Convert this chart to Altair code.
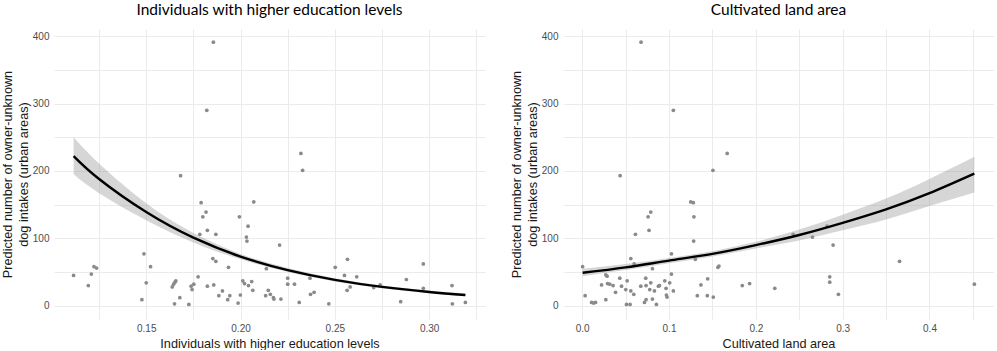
import altair as alt
import pandas as pd

# ---- Left panel: Individuals with higher education levels ----
edu_x = [0.1115, 0.1193, 0.1209, 0.1223, 0.1237, 0.1477, 0.1488, 0.1500, 0.1523, 0.1682,
         0.1638, 0.1645, 0.1652, 0.1657, 0.1650, 0.1678, 0.1726, 0.1738, 0.1743, 0.1752,
         0.1775, 0.1784, 0.1791, 0.1817, 0.1800, 0.1824, 0.1869, 0.1824, 0.1858, 0.1853,
         0.1869, 0.1885, 0.1904, 0.1936, 0.1932, 0.1943, 0.1987, 0.1999, 0.1994, 0.2012,
         0.2021, 0.2042, 0.2059, 0.2065, 0.2031, 0.2034, 0.2040, 0.2070, 0.1856, 0.1821,
         0.2137, 0.2207, 0.2147, 0.2158, 0.2174, 0.2177, 0.2133, 0.2214, 0.2250, 0.2250,
         0.2286, 0.2311, 0.2368, 0.2371, 0.2390, 0.2468, 0.2502, 0.2551, 0.2567, 0.2565,
         0.2581, 0.2616, 0.2706, 0.2740, 0.2849, 0.2879, 0.2969, 0.2969, 0.3121, 0.3123,
         0.3192, 0.2329, 0.2320]
edu_y = [45, 30, 47, 58, 56, 9, 77, 34, 58, 193,
         28, 32, 35, 37, 3, 12, 2, 29, 24, 32,
         43, 106, 153, 139, 132, 112, 106, 29, 31, 70,
         66, 15, 22, 57, 9, 15, 4, 16, 132, 37,
         33, 30, 36, 23, 102, 96, 118, 154, 391, 290,
         55, 90, 23, 17, 12, 10, 15, 10, 41, 32,
         32, 5, 41, 17, 20, 3, 57, 45, 69, 23,
         28, 43, 27, 31, 6, 39, 62, 26, 30, 3,
         5, 201, 226]

edu_fit_x = [0.1115, 0.125, 0.15, 0.175, 0.20, 0.225, 0.25, 0.275, 0.30, 0.3192]
edu_fit = [222, 188, 139, 101, 73, 53, 38.5, 28, 20.5, 16]
edu_lo = [195, 167, 127, 94, 69, 50, 36, 26, 18.5, 14]
edu_hi = [250, 211, 152, 108, 77, 56, 41, 30, 22.5, 18]

# ---- Right panel: Cultivated land area ----
land_x = [0.0678, 0.1050, 0.1670, 0.1506, 0.0437, 0.1250, 0.1280, 0.0759, 0.0790, 0.1287,
          0.0770, 0.0614, 0.1284, 0.1028, 0.0560, 0.0598, 0.1303, 0.0809, 0.0005, 0.1575,
          0.1563, 0.0272, 0.0287, 0.0433, 0.0223, 0.0292, 0.0318, 0.0356, 0.0384, 0.0453,
          0.0502, 0.0518, 0.0560, 0.0594, 0.0675, 0.0732, 0.0736, 0.0778, 0.0790, 0.0832,
          0.0878, 0.0890, 0.0951, 0.0966, 0.0970, 0.0977, 0.1008, 0.1028, 0.1050, 0.0034,
          0.0108, 0.0131, 0.0154, 0.0272, 0.0510, 0.0552, 0.0717, 0.0736, 0.0809, 0.0855,
          0.1368, 0.1445, 0.1326, 0.1441, 0.1510, 0.1844, 0.1928, 0.2218, 0.2430, 0.2652,
          0.2820, 0.2890, 0.2851, 0.2851, 0.2951, 0.3655, 0.4517]
land_y = [391, 290, 226, 201, 193, 154, 153, 132, 139, 132,
          112, 106, 96, 77, 70, 62, 69, 55, 58, 59,
          57, 46, 44, 41, 31, 33, 32, 30, 20, 29,
          24, 37, 22, 17, 29, 41, 30, 24, 34, 22,
          29, 30, 37, 26, 16, 13, 34, 47, 22, 15,
          5, 4, 5, 9, 2, 2, 5, 9, 10, 2,
          31, 40, 15, 15, 13, 30, 33, 26, 106, 102,
          118, 90, 43, 35, 17, 66, 32]

land_fit_x = [0.0005, 0.05, 0.10, 0.15, 0.20, 0.25, 0.30, 0.35, 0.40, 0.4517]
land_fit = [49, 57, 67, 77, 90, 105, 123, 143, 167, 196]
land_lo = [44, 53, 63, 73, 85, 97, 112, 128, 148, 168]
land_hi = [55, 62, 71, 81, 95, 113, 135, 159, 188, 221]

y_title = ["Predicted number of owner-unknown", "dog intakes (urban areas)"]
y_grid = [0, 50, 100, 150, 200, 250, 300, 350, 400]
y_dom = [-19.6, 410.6]


def panel(px, py, fx, fy, flo, fhi, xdom, xvals, mult, fmt, title, xtitle):
    pts = pd.DataFrame({"x": px, "y": py})
    fit = pd.DataFrame({"x": fx, "fit": fy, "lo": flo, "hi": fhi})
    xs = alt.Scale(domain=xdom, nice=False, zero=False)
    ys = alt.Scale(domain=y_dom, nice=False, zero=False)
    x_axis = alt.Axis(
        values=xvals, title=xtitle, grid=True, ticks=False, domain=False,
        labelExpr=f"abs(datum.value*{mult} - round(datum.value*{mult})) < 1e-6 ? format(datum.value, '{fmt}') : ''",
        labelPadding=4, titlePadding=4,
    )
    y_axis = alt.Axis(
        values=y_grid, title=y_title, grid=True, ticks=False, domain=False,
        labelExpr="datum.value % 100 == 0 ? datum.label : ''",
        labelPadding=5, titlePadding=2, titleLineHeight=16,
    )
    p = alt.Chart(pts).mark_circle(color="#8a8a8a", size=14, opacity=1).encode(
        x=alt.X("x:Q", scale=xs, axis=x_axis),
        y=alt.Y("y:Q", scale=ys, axis=y_axis),
    )
    band = alt.Chart(fit).mark_area(color="#999999", opacity=0.4, interpolate="natural").encode(
        x=alt.X("x:Q", scale=xs, axis=x_axis),
        y=alt.Y("lo:Q", scale=ys, axis=y_axis),
        y2="hi:Q",
    )
    line = alt.Chart(fit).mark_line(color="black", strokeWidth=2.4, interpolate="natural").encode(
        x=alt.X("x:Q", scale=xs, axis=x_axis),
        y=alt.Y("fit:Q", scale=ys, axis=y_axis),
    )
    return alt.layer(p, band, line).properties(
        width=431, height=290,
        title=alt.TitleParams(title, fontSize=15.5, font="Lato", fontWeight="normal",
                              color="#000000", anchor="middle", offset=11),
    )


left = panel(edu_x, edu_y, edu_fit_x, edu_fit, edu_lo, edu_hi,
             [0.1011, 0.3296], [0.125, 0.15, 0.175, 0.2, 0.225, 0.25, 0.275, 0.3, 0.325],
             20, ".2f", "Individuals with higher education levels",
             "Individuals with higher education levels")
right = panel(land_x, land_y, land_fit_x, land_fit, land_lo, land_hi,
              [-0.0221, 0.4743], [0, 0.05, 0.1, 0.15, 0.2, 0.25, 0.3, 0.35, 0.4, 0.45],
              10, ".1f", "Cultivated land area", "Cultivated land area")

chart = alt.hconcat(left, right, spacing=25).configure(
    padding={"left": 1, "top": 2, "right": 0, "bottom": 0}
).configure_view(strokeWidth=0).configure_axis(
    gridColor="#ebebeb", gridWidth=1,
    labelFont="Liberation Sans", labelFontSize=10, labelColor="#4d4d4d",
    titleFont="Liberation Sans", titleFontSize=12.7, titleColor="#1a1a1a",
    titleFontWeight="normal",
)

chart.save("out.html", embed_options={"renderer": "svg", "actions": False})
